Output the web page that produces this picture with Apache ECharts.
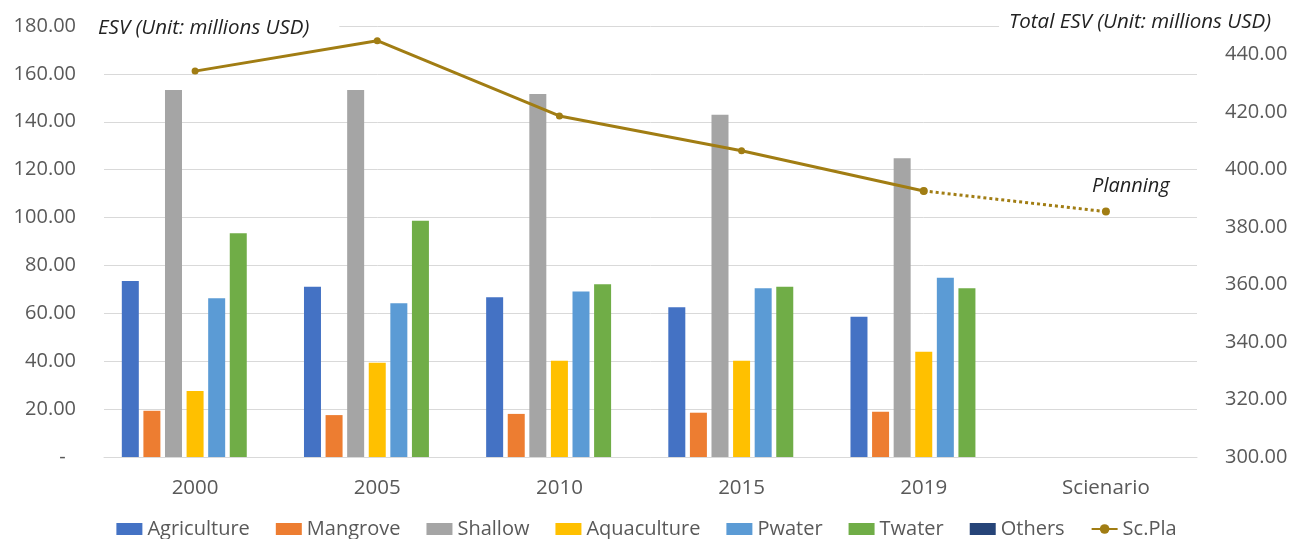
<!doctype html>
<html>
<head>
<meta charset="utf-8">
<title>ESV</title>
<script src="https://cdn.jsdelivr.net/npm/echarts@6/dist/echarts.min.js"></script>
<style>
  html, body { margin: 0; padding: 0; background: #fff; }
  #chart { width: 1293px; height: 539px; }
</style>
</head>
<body>
<div id="chart"></div>
<script>
var categories = ['2000', '2005', '2010', '2015', '2019', 'Scienario'];

var agriculture = [73.5, 71.1, 66.7, 62.5, 58.6, null];
var mangrove    = [19.3, 17.5, 18.0, 18.5, 18.9, null];
var shallow     = [153.3, 153.3, 151.6, 142.9, 124.8, null];
var aquaculture = [27.6, 39.4, 40.2, 40.2, 44.0, null];
var pwater      = [66.3, 64.2, 69.1, 70.5, 74.9, null];
var twater      = [93.4, 98.7, 72.1, 71.1, 70.5, null];
var others      = [0, 0, 0, 0, 0, null];

// total ESV (right axis), solid part then the planning part
var totalEsv    = [434.3, 444.9, 418.7, 406.6, 392.6, null];
var planningEsv = [null, null, null, null, 392.6, 385.4];

var leftTicks  = { min: 0, max: 180, interval: 20 };
var rightTicks = { min: 300, max: 450, interval: 20 };

var gold = '#A17D13';
var txt = '#595959';
var font = 'Open Sans';

var barNames  = ['Agriculture', 'Mangrove', 'Shallow', 'Aquaculture', 'Pwater', 'Twater', 'Others'];
var barData   = [agriculture, mangrove, shallow, aquaculture, pwater, twater, others];
var barColors = ['#4472C4', '#ED7D31', '#A5A5A5', '#FFC000', '#5B9BD5', '#70AD47', '#264478'];

var series = [];
barNames.forEach(function (n, i) {
  series.push({
    name: n,
    type: 'bar',
    yAxisIndex: 0,
    barWidth: 17,
    barGap: '27%',
    itemStyle: { color: barColors[i] },
    data: barData[i]
  });
});
series.push({
  name: 'Sc.Pla',
  type: 'line',
  yAxisIndex: 1,
  symbol: 'circle',
  symbolSize: 7,
  itemStyle: { color: gold },
  lineStyle: { color: gold, width: 3 },
  data: totalEsv
});
series.push({
  name: 'Sc.Pla',
  type: 'line',
  yAxisIndex: 1,
  symbol: 'circle',
  symbolSize: 8,
  itemStyle: { color: gold },
  lineStyle: { color: gold, width: 3, type: 'dotted' },
  label: {
    show: true,
    formatter: function (p) { return p.dataIndex === 5 ? 'Planning' : ''; },
    position: 'top',
    offset: [25, -6],
    fontFamily: font,
    fontStyle: 'italic',
    fontSize: 20,
    color: '#222'
  },
  data: planningEsv
});

var chart = echarts.init(document.getElementById('chart'));
chart.setOption({
  animation: false,
  textStyle: { fontFamily: font },
  grid: { left: 104, right: 96, top: 26, bottom: 82, containLabel: false },
  legend: {
    top: 514,
    left: 'center',
    itemWidth: 26,
    itemHeight: 12,
    itemGap: 26,
    textStyle: { color: txt, fontSize: 20, fontFamily: font },
    data: barNames.map(function (n) { return { name: n, icon: 'rect' }; }).concat([{ name: 'Sc.Pla' }])
  },
  graphic: [
    { type: 'text', left: 94, top: 16, z: 10,
      style: { text: 'ESV (Unit: millions USD)', fill: '#222', font: 'italic 20.5px "Open Sans"',
               backgroundColor: '#fff', padding: [2, 30, 2, 4] } },
    { type: 'text', right: 16, top: 10, z: 10,
      style: { text: 'Total ESV (Unit: millions USD)', fill: '#222', font: 'italic 20.5px "Open Sans"',
               backgroundColor: '#fff', padding: [2, 6, 2, 10] } }
  ],
  xAxis: {
    type: 'category',
    data: categories,
    axisTick: { show: false },
    axisLine: { lineStyle: { color: '#D9D9D9' } },
    axisLabel: { color: txt, fontSize: 20.5, margin: 21 }
  },
  yAxis: [
    {
      type: 'value',
      min: leftTicks.min, max: leftTicks.max, interval: leftTicks.interval,
      axisLine: { show: false },
      axisTick: { show: false },
      splitLine: { lineStyle: { color: '#D9D9D9', width: 1 } },
      axisLabel: {
        color: txt, fontSize: 20, margin: 28,
        formatter: function (v) { return v === 0 ? '-  ' : v.toFixed(2); }
      }
    },
    {
      type: 'value',
      min: rightTicks.min, max: rightTicks.max, interval: rightTicks.interval,
      axisLine: { show: false },
      axisTick: { show: false },
      splitLine: { show: false },
      axisLabel: {
        color: txt, fontSize: 20, margin: 28, showMaxLabel: false,
        formatter: function (v) { return v.toFixed(2); }
      }
    }
  ],
  series: series
});
</script>
</body>
</html>
